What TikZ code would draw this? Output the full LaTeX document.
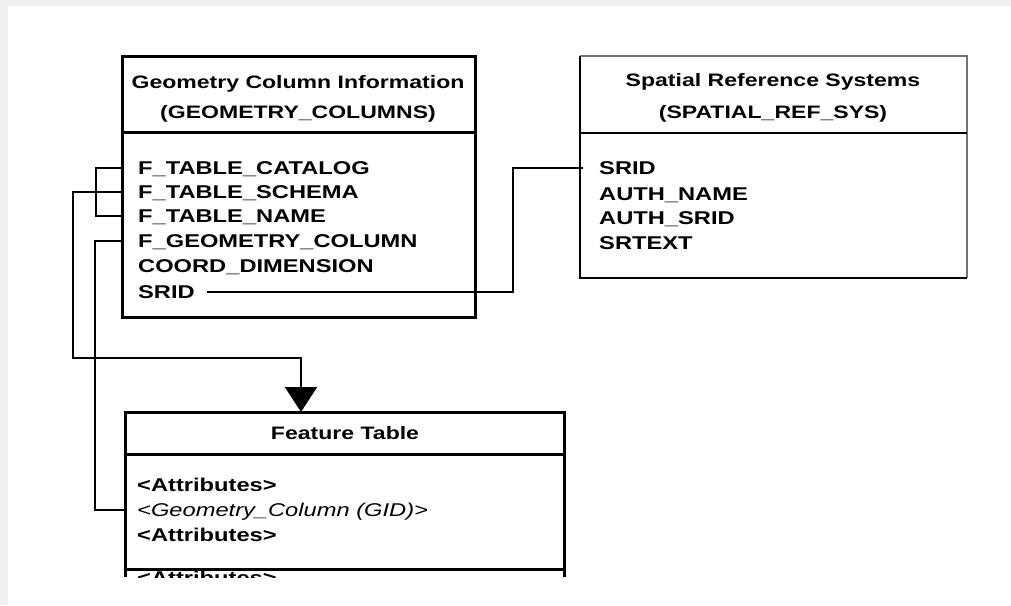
\documentclass[tikz,border=0pt]{standalone}
\usepackage{fontspec}
\setmainfont{Liberation Sans}[FakeStretch=1.28]
\usetikzlibrary{arrows.meta}
\begin{document}
\begin{tikzpicture}[x=1pt,y=-1pt,
  rowtxt/.style={anchor=west,inner sep=0pt,text height=13.3pt,text depth=0pt,font=\fontsize{18.5}{20}\selectfont\bfseries},
  hdrtxt/.style={inner sep=0pt,text height=13.3pt,text depth=0pt,font=\fontsize{18}{20}\selectfont\bfseries},
  conn/.style={line width=2pt,black},
  thickbox/.style={line width=3pt,black},
  arrowtip/.style={-{Triangle[width=32pt,length=25pt]}}]
\useasboundingbox (0,0) rectangle (1011,605);
\fill[black!6] (0,0) rectangle (1011,605);
\fill[white] (8,6) rectangle (1011,605);

% Geometry columns table
\draw[thickbox] (122,56) rectangle (475,317);
\draw[thickbox] (122,132) -- (475,132);
\node[hdrtxt] (gh1) at (298,82) {Geometry Column Information};
\node[hdrtxt] (gh2) at (298,112) {(GEOMETRY\_COLUMNS)};
\node[rowtxt] (cat) at (138,168) {F\_TABLE\_CATALOG};
\node[rowtxt] (sch) at (138,192) {F\_TABLE\_SCHEMA};
\node[rowtxt] (tna) at (138,216) {F\_TABLE\_NAME};
\node[rowtxt] (geo) at (138,241) {F\_GEOMETRY\_COLUMN};
\node[rowtxt] (dim) at (138,266) {COORD\_DIMENSION};
\node[rowtxt] (sr1) at (138,292) {SRID};

% Spatial reference systems table
\draw[line width=2pt,black!55] (580,56) -- (967,56) -- (967,278);
\draw[line width=2.5pt,black] (580,56) -- (580,278) -- (967,278);
\draw[line width=2.5pt,black] (580,133) -- (967,133);
\node[hdrtxt] (sh1) at (773,80) {Spatial Reference Systems};
\node[hdrtxt] (sh2) at (773,112) {(SPATIAL\_REF\_SYS)};
\node[rowtxt] (sr2) at (599,168) {SRID};
\node[rowtxt] (aun) at (599,194) {AUTH\_NAME};
\node[rowtxt] (aus) at (599,218) {AUTH\_SRID};
\node[rowtxt] (srt) at (599,243) {SRTEXT};

% Feature table
\draw[thickbox] (125,577) -- (125,412) -- (564,412) -- (564,577);
\draw[thickbox] (125,454) -- (564,454);
\draw[thickbox] (125,569) -- (564,569);
\node[hdrtxt] (fth) at (345,433) {Feature Table};
\coordinate (ftin) at (301,412);
\node[rowtxt] (at1) at (137,485) {<Attributes>};
\node[rowtxt,font=\fontsize{18.5}{20}\selectfont\itshape] (gid) at (137,510) {<Geometry\_Column (GID)>};
\node[rowtxt] (at2) at (137,535) {<Attributes>};
\begin{scope}
  \clip (125,570.5) rectangle (564,577);
  \node[rowtxt] (at3) at (137,578) {<Attributes>};
\end{scope}

% connectors
\draw[conn] ([xshift=-14pt]cat.west) -- ++(-28,0) |- ([xshift=-14pt]tna.west);
\draw[conn,arrowtip] ([xshift=-14pt]sch.west) -- ++(-51,0) |- (ftin |- 0,358) -- (ftin);
\draw[conn] ([xshift=-14pt]geo.west) -- ++(-29,0) |- ([xshift=-10pt]gid.west);
\draw[conn] ([xshift=12pt]sr1.east) -| (513,180) |- ([xshift=-16pt]sr2.west);
\end{tikzpicture}
\end{document}
